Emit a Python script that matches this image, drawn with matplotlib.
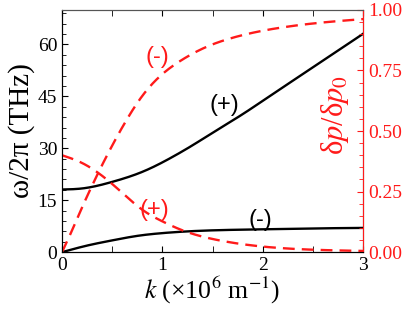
import matplotlib
matplotlib.use('Agg')
import matplotlib.pyplot as plt
import numpy as np

plt.rcParams['font.family'] = ['Liberation Serif', 'DejaVu Serif']
plt.rcParams['mathtext.fontset'] = 'stix'
plt.rcParams['xtick.direction'] = 'in'
plt.rcParams['ytick.direction'] = 'in'

# frequencies (THz) vs k (x10^6 m^-1)
k_p = [0.0, 0.2, 0.5, 0.8, 1.1, 1.33, 1.5, 1.78, 2.05, 2.5, 3.0]
w_plus = [18.1, 18.4, 20.3, 23.2, 27.5, 31.4, 34.5, 39.5, 44.7, 53.4, 63.1]
k_m = [0.0, 0.25, 0.5, 0.75, 1.0, 1.25, 1.5, 2.0, 2.5, 3.0]
w_minus = [0.0, 1.9, 3.4, 4.7, 5.5, 6.0, 6.3, 6.6, 6.85, 7.0]

# delta p / delta p0
k_dm = [0.0, 0.1, 0.2, 0.3, 0.4, 0.5, 0.6, 0.8, 1.0, 1.2, 1.4, 1.7, 2.2, 2.7, 3.0]
dp_minus = [0.0, 0.09, 0.185, 0.275, 0.36, 0.44, 0.515, 0.645, 0.735, 0.795, 0.84, 0.885, 0.928, 0.952, 0.962]
k_dp = [0.0, 0.2, 0.4, 0.6, 0.8, 1.0, 1.2, 1.4, 1.6, 2.0, 2.5, 3.0]
dp_plus = [0.40, 0.368, 0.315, 0.245, 0.175, 0.127, 0.09, 0.064, 0.046, 0.023, 0.01, 0.005]


def spline(x, y, n=300):
    # natural cubic spline through the read points
    x = np.asarray(x, float); y = np.asarray(y, float)
    N = len(x); h = np.diff(x)
    A = np.zeros((N, N)); b = np.zeros(N)
    A[0, 0] = A[-1, -1] = 1
    for i in range(1, N - 1):
        A[i, i-1] = h[i-1]; A[i, i] = 2*(h[i-1] + h[i]); A[i, i+1] = h[i]
        b[i] = 6*((y[i+1]-y[i])/h[i] - (y[i]-y[i-1])/h[i-1])
    M = np.linalg.solve(A, b)
    xs = np.linspace(x[0], x[-1], n)
    j = np.clip(np.searchsorted(x, xs) - 1, 0, N - 2)
    t1 = x[j+1] - xs; t0 = xs - x[j]; hj = h[j]
    ys = (M[j]*t1**3 + M[j+1]*t0**3)/(6*hj) + (y[j]/hj - M[j]*hj/6)*t1 + (y[j+1]/hj - M[j+1]*hj/6)*t0
    return xs, ys


red = '#ff1a1a'
fig = plt.figure(figsize=(4.08, 3.09), dpi=100)
ax = fig.add_axes([0.152, 0.184, 0.738, 0.784])
ax2 = ax.twinx()

ax.plot(*spline(k_p, w_plus), color='black', lw=1.7)
ax.plot(*spline(k_m, w_minus), color='black', lw=1.7)
ax2.plot(*spline(k_dm, dp_minus), color=red, lw=1.7, dashes=(5.0, 3.0))
ax2.plot(*spline(k_dp, dp_plus), color=red, lw=1.7, dashes=(5.0, 3.0))

ax.set_xlim(0, 3)
ax.set_ylim(0, 70)
ax2.set_ylim(0, 1)
ax.set_xticks([0, 1, 2, 3])
ax.set_xticks([0.5, 1.5, 2.5], minor=True)
ax.set_yticks([0, 15, 30, 45, 60])
ax.set_yticks(np.arange(0, 70, 3), minor=True)
ax2.set_yticks([0, 0.25, 0.5, 0.75, 1.0])
ax2.set_yticks(np.arange(0, 1.0, 0.05), minor=True)

ax.tick_params(axis='both', which='major', labelsize=14, length=4, top=True)
ax.tick_params(axis='both', which='minor', length=3, top=True)
ax.tick_params(axis='x', which='both', length=4)
ax2.tick_params(axis='y', which='major', labelsize=14, length=4, colors=red)
ax2.tick_params(axis='y', which='minor', length=3, colors=red)
ax2.set_yticklabels(['0.00', '0.25', '0.50', '0.75', '1.00'])
ax2.spines['right'].set_color(red)
ax.spines['top'].set_color('#555555')
ax2.spines['top'].set_color('#555555')

ax.set_xlabel('$k$ (×10$^6$ m$^{-1}$)', fontsize=18.5, labelpad=1)
ax.set_ylabel('ω/2π (THz)', fontsize=21, labelpad=2)
# right-hand label sits just inside the frame in the reference
ax.text(0.905, 0.565, r'δ$p$/δ$p_0$', transform=ax.transAxes, rotation=90,
        fontsize=22, color=red, ha='center', va='center')

ax.text(1.62, 42.5, '(+)', fontsize=17, ha='center', va='center', family='Liberation Sans')
ax.text(1.98, 9.2, '(-)', fontsize=17, ha='center', va='center', family='Liberation Sans')
ax2.text(0.95, 0.807, '(-)', fontsize=17, ha='center', va='center', color=red, family='Liberation Sans')
ax2.text(0.92, 0.174, '(+)', fontsize=17, ha='center', va='center', color=red, family='Liberation Sans')

fig.savefig('out.png', dpi=100)
